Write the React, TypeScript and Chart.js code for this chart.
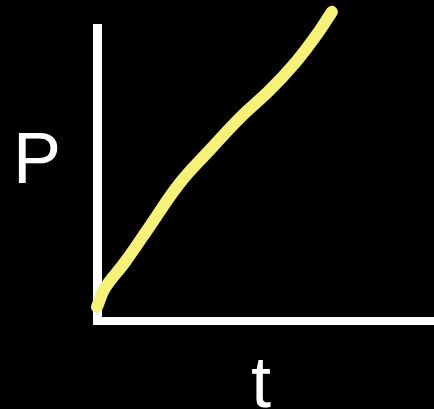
import React, { useEffect, useRef } from "react";
import { Chart, registerables } from "chart.js";

Chart.register(...registerables);

// time (arbitrary units) and P values
const tValues = [0, 0.24, 0.83, 1.57, 2.46, 3.35, 4.24, 5.13, 5.88, 6.47, 6.97];
const pValues = [0.48, 1.13, 2.01, 3.24, 4.71, 5.84, 6.93, 7.88, 8.81, 9.69, 10.55];
const xLabel = "t";
const yLabel = "P";

const W = 434;
const H = 409;

export default function App() {
  const ref = useRef<HTMLCanvasElement | null>(null);

  useEffect(() => {
    document.body.style.margin = "0";
    document.body.style.background = "#000";
    const canvas = ref.current;
    if (!canvas) return;

    const bgPlugin = {
      id: "bg",
      beforeDraw(chart: any) {
        const ctx = chart.ctx;
        ctx.save();
        ctx.fillStyle = "#000";
        ctx.fillRect(0, 0, chart.width, chart.height);
        ctx.restore();
      },
    };

    const labelPlugin = {
      id: "labels",
      afterDraw(chart: any) {
        const ctx = chart.ctx;
        const area = chart.chartArea;
        ctx.save();
        ctx.fillStyle = "#fff";
        ctx.font = '72px "Liberation Sans", Arial, sans-serif';
        ctx.textBaseline = "alphabetic";
        ctx.textAlign = "left";
        ctx.fillText(yLabel, area.left - 84, area.top + 155);
        ctx.fillText(xLabel, area.left + 154, area.bottom + 86);
        ctx.restore();
      },
    };

    const chart = new Chart(canvas, {
      type: "line",
      data: {
        datasets: [
          {
            data: tValues.map((t, i) => ({ x: t, y: pValues[i] })),
            borderColor: "rgb(246, 242, 120)",
            borderWidth: 12,
            borderCapStyle: "round",
            borderJoinStyle: "round",
            pointRadius: 0,
            tension: 0.4,
            clip: false as any,
            fill: false,
          },
        ],
      },
      options: {
        animation: false,
        responsive: false,
        events: [],
        layout: { padding: { left: 97, top: 28, right: 0, bottom: 88 } },
        plugins: {
          legend: { display: false },
          tooltip: { enabled: false },
          title: { display: false },
        },
        scales: {
          x: {
            type: "linear",
            min: 0,
            max: 10,
            grid: { display: false, drawTicks: false },
            ticks: { display: false },
            border: { display: true, color: "#fff", width: 8 },
          },
          y: {
            type: "linear",
            min: 0,
            max: 10,
            grid: { display: false, drawTicks: false },
            ticks: { display: false },
            border: { display: true, color: "#fff", width: 9 },
          },
        },
      },
      plugins: [bgPlugin, labelPlugin],
    });

    return () => chart.destroy();
  }, []);

  return (
    <div style={{ position: "fixed", left: 0, top: 0, width: W, height: H, background: "#000" }}>
      <canvas ref={ref} width={W} height={H} style={{ display: "block", width: W, height: H }} />
    </div>
  );
}
